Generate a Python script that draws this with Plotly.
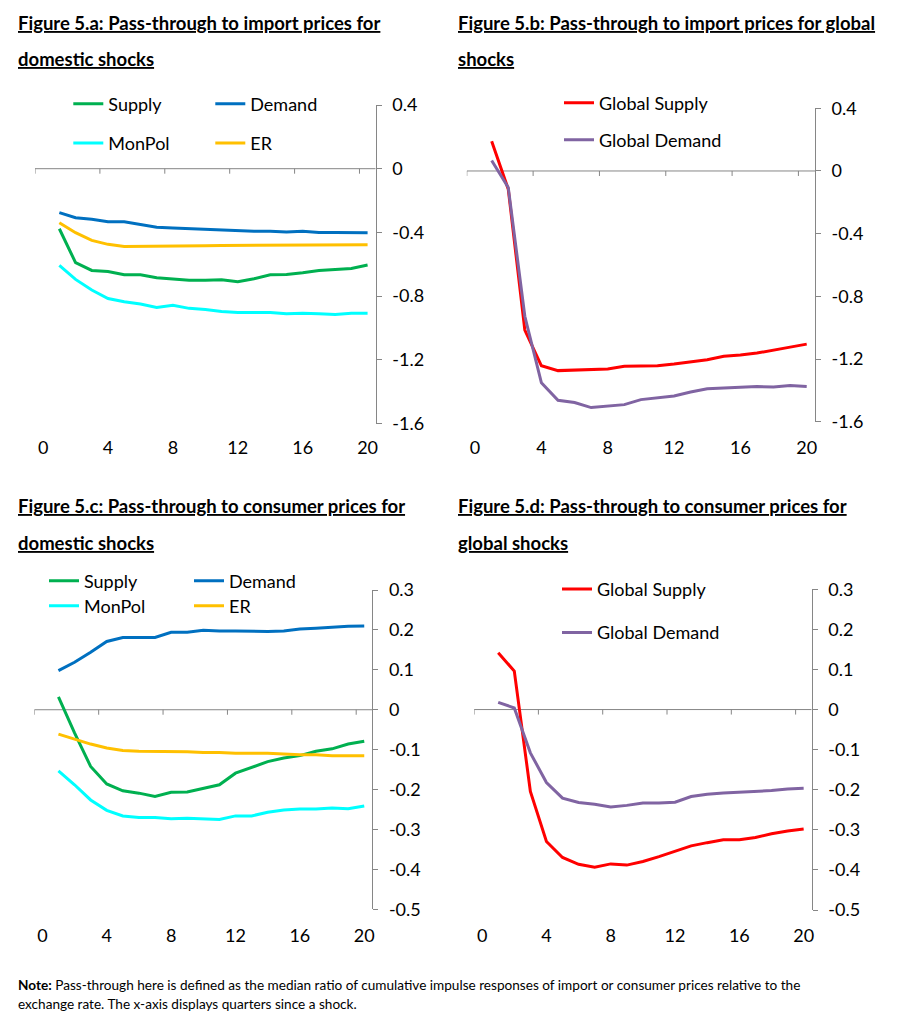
import plotly.graph_objects as go

# ---------------- data ----------------
quarters = list(range(1, 21))
x_tick_vals = [0, 4, 8, 12, 16, 20]

# Figure 5.a  import prices, domestic shocks
a_supply = [-0.377, -0.590, -0.639, -0.645, -0.666, -0.666, -0.685, -0.691, -0.700, -0.700,
            -0.698, -0.710, -0.691, -0.666, -0.664, -0.653, -0.639, -0.633, -0.626, -0.605]
a_demand = [-0.276, -0.308, -0.318, -0.333, -0.333, -0.350, -0.367, -0.373, -0.377, -0.381,
            -0.385, -0.392, -0.392, -0.392, -0.398, -0.392, -0.400, -0.400, -0.400, -0.402]
a_monpol = [-0.607, -0.695, -0.762, -0.815, -0.836, -0.850, -0.871, -0.857, -0.877, -0.884,
            -0.896, -0.903, -0.903, -0.903, -0.911, -0.907, -0.911, -0.915, -0.907, -0.907]
a_er = [-0.339, -0.402, -0.450, -0.475, -0.488, -0.488, -0.484, -0.488, -0.488, -0.484,
        -0.482, -0.482, -0.482, -0.482, -0.482, -0.482, -0.482, -0.482, -0.482, -0.478]

# Figure 5.b  import prices, global shocks
b_gsupply = [0.190, -0.116, -1.015, -1.243, -1.274, -1.270, -1.263, -1.263, -1.246, -1.246,
             -1.243, -1.232, -1.217, -1.204, -1.183, -1.175, -1.162, -1.141, -1.124, -1.105]
b_gdemand = [0.067, -0.105, -0.927, -1.352, -1.463, -1.478, -1.510, -1.501, -1.491, -1.459,
             -1.449, -1.436, -1.411, -1.390, -1.385, -1.381, -1.375, -1.379, -1.369, -1.375]

# Figure 5.c  consumer prices, domestic shocks
c_supply = [0.032, -0.058, -0.142, -0.186, -0.203, -0.209, -0.217, -0.207, -0.206, -0.197,
            -0.188, -0.159, -0.145, -0.130, -0.121, -0.115, -0.104, -0.098, -0.086, -0.079]
c_demand = [0.098, 0.119, 0.144, 0.171, 0.181, 0.181, 0.181, 0.194, 0.194, 0.199,
            0.197, 0.197, 0.196, 0.196, 0.197, 0.202, 0.204, 0.207, 0.209, 0.210]
c_monpol = [-0.153, -0.188, -0.226, -0.252, -0.266, -0.270, -0.270, -0.273, -0.272, -0.273,
            -0.275, -0.266, -0.266, -0.257, -0.251, -0.249, -0.249, -0.246, -0.248, -0.241]
c_er = [-0.061, -0.073, -0.086, -0.096, -0.102, -0.104, -0.104, -0.105, -0.105, -0.107,
        -0.107, -0.109, -0.109, -0.109, -0.111, -0.113, -0.113, -0.115, -0.115, -0.115]

# Figure 5.d  consumer prices, global shocks
d_gsupply = [0.142, 0.096, -0.204, -0.329, -0.369, -0.386, -0.393, -0.385, -0.388, -0.379,
             -0.367, -0.354, -0.340, -0.332, -0.325, -0.325, -0.319, -0.310, -0.303, -0.298]
d_gdemand = [0.018, 0.004, -0.108, -0.182, -0.221, -0.232, -0.236, -0.243, -0.239, -0.233,
             -0.233, -0.231, -0.217, -0.211, -0.208, -0.206, -0.204, -0.202, -0.198, -0.196]

y_ticks_ab = [0.4, 0.0, -0.4, -0.8, -1.2, -1.6]
y_ticks_cd = [0.3, 0.2, 0.1, 0.0, -0.1, -0.2, -0.3, -0.4, -0.5]

titles = {
    "a": ["Figure 5.a: Pass-through to import prices for", "domestic shocks"],
    "b": ["Figure 5.b: Pass-through to import prices for global", "shocks"],
    "c": ["Figure 5.c: Pass-through to consumer prices for", "domestic shocks"],
    "d": ["Figure 5.d: Pass-through to consumer prices for", "global shocks"],
}
note_line1 = "<b>Note:</b> Pass-through here is defined as the median ratio of cumulative impulse responses of import or consumer prices relative to the"
note_line2 = "exchange rate. The x-axis displays quarters since a shock."

# ---------------- style ----------------
W, H = 909, 1024
FONT = "Lato"
C_SUPPLY, C_DEMAND, C_MONPOL, C_ER = "#00B050", "#0070C0", "#00FFFF", "#FFC000"
C_GSUP, C_GDEM = "#FF0000", "#8064A2"
AXIS_C = "#868686"
LW = 3


def px_x(p):
    return p / W


def px_y(p):
    return 1 - p / H


# panel geometry in pixels: (x_left, x_right, y_top, y_bottom, x-label standoff)
geo = {
    "a": (35.0, 375.7, 105.0, 423.5, 11),
    "b": (466.8, 815.0, 108.3, 421.7, 13),
    "c": (34.3, 372.3, 590.0, 909.3, 14),
    "d": (474.1, 811.7, 589.3, 910.0, 13),
}

fig = go.Figure()

panels = [
    ("a", 1, [("Supply", a_supply, C_SUPPLY, "legend"), ("Demand", a_demand, C_DEMAND, "legend"),
              ("MonPol", a_monpol, C_MONPOL, "legend2"), ("ER", a_er, C_ER, "legend2")], y_ticks_ab),
    ("b", 2, [("Global Supply", b_gsupply, C_GSUP, "legend3"),
              ("Global Demand", b_gdemand, C_GDEM, "legend4")], y_ticks_ab),
    ("c", 3, [("Supply", c_supply, C_SUPPLY, "legend5"), ("Demand", c_demand, C_DEMAND, "legend5"),
              ("MonPol", c_monpol, C_MONPOL, "legend6"), ("ER", c_er, C_ER, "legend6")], y_ticks_cd),
    ("d", 4, [("Global Supply", d_gsupply, C_GSUP, "legend7"),
              ("Global Demand", d_gdemand, C_GDEM, "legend8")], y_ticks_cd),
]

layout_axes = {}
shapes = []
annotations = []
TICK_FONT = dict(family=FONT, size=18, color="#000")

for key, n, series, yticks in panels:
    xl, xr, yt, yb, standoff = geo[key]
    xa = "x" if n == 1 else f"x{n}"
    ya = "y" if n == 1 else f"y{n}"
    for name, vals, col, leg in series:
        fig.add_trace(go.Scatter(x=quarters, y=vals, name=name, mode="lines",
                                 line=dict(color=col, width=LW),
                                 xaxis=xa, yaxis=ya, legend=leg))
    layout_axes["xaxis" if n == 1 else f"xaxis{n}"] = dict(
        domain=[px_x(xl), px_x(xr)], range=[-0.5, 20.5], anchor=ya,
        tickvals=x_tick_vals, ticks="", showline=False, showgrid=False, zeroline=False,
        tickfont=TICK_FONT, ticklabelstandoff=standoff, automargin=False,
        fixedrange=True)
    layout_axes["yaxis" if n == 1 else f"yaxis{n}"] = dict(
        domain=[px_y(yb), px_y(yt)], range=[min(yticks), max(yticks)], anchor=xa,
        side="right", showline=True, linecolor=AXIS_C, linewidth=1,
        ticks="outside", ticklen=5, tickcolor=AXIS_C, tickwidth=1,
        tickvals=yticks, ticktext=[f"{v:g}" for v in yticks],
        tickfont=TICK_FONT, ticklabelstandoff=7, automargin=False,
        showgrid=False, zeroline=False, fixedrange=True)
    # horizontal category axis crossing at zero, with tick marks between categories
    shapes.append(dict(type="line", xref=xa, yref=ya, x0=-0.5, x1=20.5, y0=0, y1=0,
                       line=dict(color=AXIS_C, width=1), layer="below"))
    for k in range(6):
        tx = -0.5 + 4 * k
        shapes.append(dict(type="line", xref=xa, yref=ya, x0=tx, x1=tx,
                           ysizemode="pixel", yanchor=0, y0=0, y1=-5,
                           line=dict(color=AXIS_C, width=1), layer="below"))

# titles
title_pos = {"a": (16, 23, 59), "b": (455.5, 23, 59), "c": (16, 506, 543), "d": (455.5, 506, 543)}
for key, (tx, ty1, ty2) in title_pos.items():
    for txt, ty in zip(titles[key], (ty1, ty2)):
        annotations.append(dict(xref="paper", yref="paper", x=px_x(tx), y=px_y(ty),
                                xanchor="left", yanchor="middle", showarrow=False,
                                text=f"<b><u>{txt}</u></b>",
                                font=dict(family=FONT, size=18.5, color="#000")))

annotations.append(dict(xref="paper", yref="paper", x=px_x(16), y=px_y(985), xanchor="left",
                        yanchor="middle", showarrow=False, text=note_line1,
                        font=dict(family=FONT, size=13.6, color="#000")))
annotations.append(dict(xref="paper", yref="paper", x=px_x(16), y=px_y(1004), xanchor="left",
                        yanchor="middle", showarrow=False, text=note_line2,
                        font=dict(family=FONT, size=13.6, color="#000")))

leg_font = dict(family=FONT, size=18, color="#000")


def leg(text_x, yc, ew=0):
    return dict(x=px_x(text_x - 40), y=px_y(yc), xanchor="left", yanchor="middle",
                orientation="h", entrywidth=ew, entrywidthmode="pixels",
                font=leg_font, bgcolor="rgba(0,0,0,0)", borderwidth=0)


fig.update_layout(
    width=W, height=H, margin=dict(l=0, r=0, t=0, b=0, autoexpand=False),
    paper_bgcolor="white", plot_bgcolor="white",
    showlegend=True,
    legend=leg(108.3, 104, 97),
    legend2=leg(108.3, 143.3, 97),
    legend3=leg(599, 103),
    legend4=leg(599, 140),
    legend5=leg(84, 581, 100),
    legend6=leg(84, 606, 100),
    legend7=leg(597, 589.3),
    legend8=leg(597, 632.7),
    shapes=shapes, annotations=annotations,
    **layout_axes,
)

fig.write_html("out.html")
